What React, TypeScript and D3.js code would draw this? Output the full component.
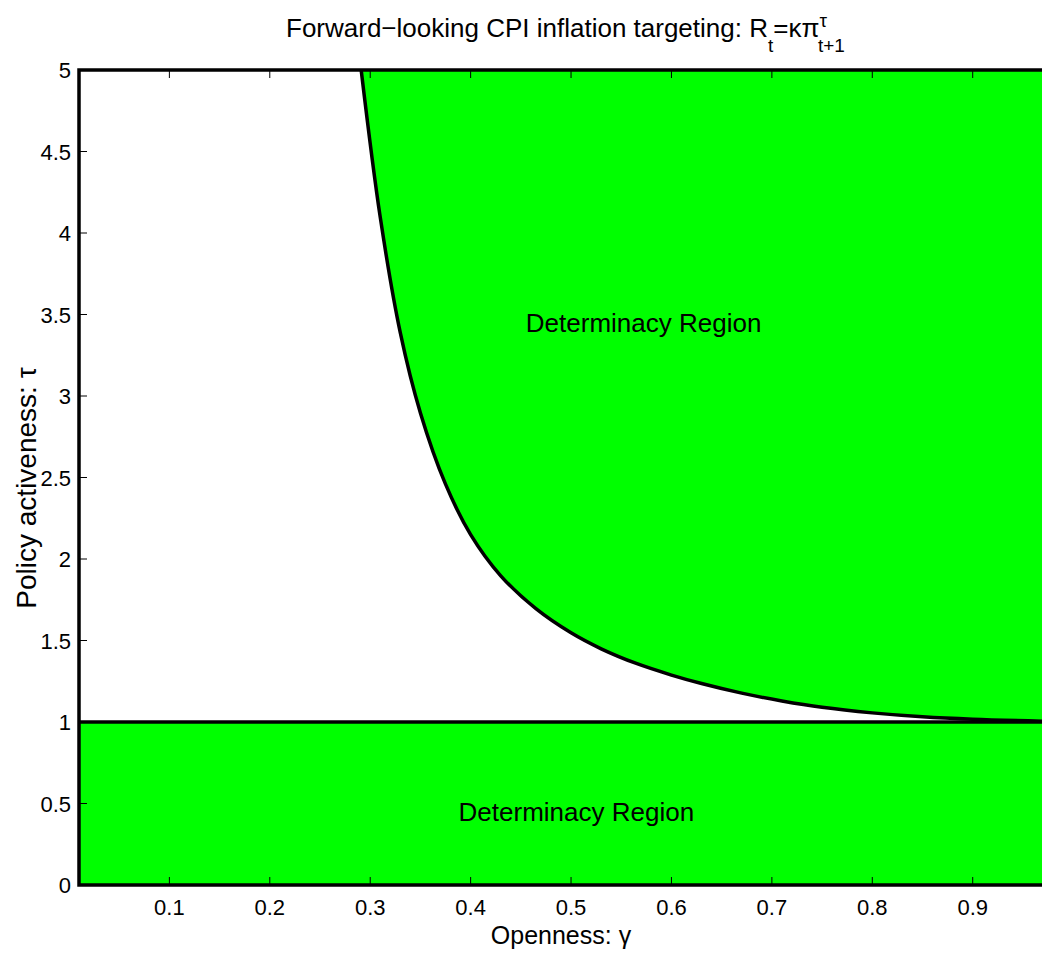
import React from 'react';
import * as d3 from 'd3';

// boundary of the upper determinacy region
const gammaPts = [0.291, 0.31, 0.33, 0.35, 0.375, 0.4, 0.43, 0.465, 0.5, 0.53, 0.565, 0.6, 0.63, 0.67, 0.71, 0.75, 0.8, 0.85, 0.9, 0.97];
const tauPts = [5.0, 4.096, 3.387, 2.896, 2.459, 2.15, 1.897, 1.695, 1.547, 1.449, 1.359, 1.288, 1.236, 1.177, 1.129, 1.09, 1.056, 1.032, 1.017, 1.005];

const xTicks = [0.1, 0.2, 0.3, 0.4, 0.5, 0.6, 0.7, 0.8, 0.9];
const yTicks = [0, 0.5, 1, 1.5, 2, 2.5, 3, 3.5, 4, 4.5, 5];
const xDomain: [number, number] = [0.01, 0.97];
const yDomain: [number, number] = [0, 5];
const lowerBound = 1;

const regionLabels = [
  { text: 'Determinacy Region', gamma: 0.455, tau: 3.45 },
  { text: 'Determinacy Region', gamma: 0.388, tau: 0.45 },
];

const W = 1042;
const H = 953;
const margin = { left: 79, top: 70, right: 1043, bottom: 885 };
const green = '#00ff00';
const font = 'Arial, "Liberation Sans", Helvetica, sans-serif';

export default function App() {
  const x = d3.scaleLinear().domain(xDomain).range([margin.left, margin.right]);
  const y = d3.scaleLinear().domain(yDomain).range([margin.bottom, margin.top]);

  const pts: [number, number][] = gammaPts.map((g, i) => [g, tauPts[i]]);

  const line = d3
    .line<[number, number]>()
    .x(d => x(d[0]))
    .y(d => y(d[1]))
    .curve(d3.curveCatmullRom.alpha(0.5));

  const area = d3
    .area<[number, number]>()
    .x(d => x(d[0]))
    .y0(y(yDomain[1]))
    .y1(d => y(d[1]))
    .curve(d3.curveCatmullRom.alpha(0.5));

  const tickLen = 8;

  return (
    <div style={{ position: 'absolute', left: 0, top: 0 }}>
      <svg width={W} height={H} style={{ display: 'block', background: '#fff' }}>
        <defs>
          <clipPath id="plot">
            <rect x={margin.left} y={margin.top} width={margin.right - margin.left} height={margin.bottom - margin.top} />
          </clipPath>
        </defs>

        <g clipPath="url(#plot)">
          {/* upper region */}
          <path d={area(pts) || ''} fill={green} />
          {/* lower region */}
          <rect
            x={x(xDomain[0])}
            y={y(lowerBound)}
            width={x(xDomain[1]) - x(xDomain[0])}
            height={y(0) - y(lowerBound)}
            fill={green}
          />
          <path d={line(pts) || ''} fill="none" stroke="#000" strokeWidth={3.5} />
          <line x1={x(xDomain[0])} x2={x(xDomain[1])} y1={y(lowerBound)} y2={y(lowerBound)} stroke="#000" strokeWidth={3.5} />
        </g>

        {/* ticks */}
        {xTicks.map(t => (
          <g key={'xt' + t}>
            <line x1={x(t)} x2={x(t)} y1={margin.bottom} y2={margin.bottom - tickLen} stroke="#000" strokeWidth={1} />
            <line x1={x(t)} x2={x(t)} y1={margin.top} y2={margin.top + tickLen} stroke="#000" strokeWidth={1} />
            <text x={x(t)} y={margin.bottom + 30} textAnchor="middle" fontFamily={font} fontSize={22}>
              {t}
            </text>
          </g>
        ))}
        {yTicks.map(t => (
          <g key={'yt' + t}>
            <line x1={margin.left} x2={margin.left + tickLen} y1={y(t)} y2={y(t)} stroke="#000" strokeWidth={1} />
            <text x={margin.left - 8} y={y(t) + 8} textAnchor="end" fontFamily={font} fontSize={22}>
              {t}
            </text>
          </g>
        ))}

        {/* axes box (right side falls off the page) */}
        <path
          d={`M${margin.right},${margin.top}H${margin.left}V${margin.bottom}H${margin.right}`}
          fill="none"
          stroke="#000"
          strokeWidth={3.5}
        />

        {regionLabels.map((r, i) => (
          <text key={i} x={x(r.gamma)} y={y(r.tau) + 9} fontFamily={font} fontSize={26}>
            {r.text}
          </text>
        ))}

        {/* axis titles */}
        <text x={(margin.left + margin.right) / 2} y={944} textAnchor="middle" fontFamily={font} fontSize={25}>
          Openness: γ
        </text>
        <text
          transform={`translate(36,488) rotate(-90)`}
          textAnchor="middle"
          fontFamily={font}
          fontSize={28}
        >
          Policy activeness: τ
        </text>

        {/* title: R_t = κ π^τ_{t+1} */}
        <text x={286} y={37} fontFamily={font} fontSize={26}>
          Forward−looking CPI inflation targeting: R
          <tspan fontSize={19} dy={15}>t</tspan>
          <tspan dy={-15}>=κπ</tspan>
          <tspan fontSize={19} dy={-10}>τ</tspan>
          <tspan fontSize={19} dx={-9} dy={25}>t+1</tspan>
        </text>
      </svg>
    </div>
  );
}
